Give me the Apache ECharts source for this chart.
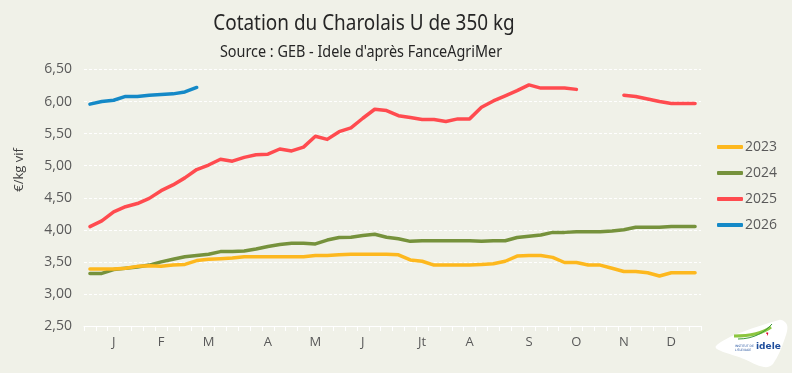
<!DOCTYPE html>
<html>
<head>
<meta charset="utf-8">
<script src="https://cdn.jsdelivr.net/npm/echarts@6/dist/echarts.min.js"></script>
<style>
html,body{margin:0;padding:0;background:#f0f1e8;}
#chart{width:792px;height:373px;}
</style>
</head>
<body>
<div id="chart"></div>
<script>
// Weeks 1..52
var weeks = [];
for (var w = 1; w <= 52; w++) weeks.push('S' + w);

// Month labels placed on specific weeks
var monthLabels = ['', '', 'J', '', '', '', 'F', '', '', '', 'M', '', '', '', '', 'A', '', '', '', 'M', '', '', '', 'J', '', '', '', '', 'Jt', '', '', '', 'A', '', '', '', '', 'S', '', '', '', 'O', '', '', '', 'N', '', '', '', 'D', '', ''];

var yTicks = [2.5, 3.0, 3.5, 4.0, 4.5, 5.0, 5.5, 6.0, 6.5];

var s2023 = [3.39, 3.39, 3.39, 3.40, 3.43, 3.44, 3.43, 3.45, 3.46, 3.52, 3.54, 3.55, 3.56, 3.58, 3.58, 3.58, 3.58, 3.58, 3.58, 3.60, 3.60, 3.61, 3.62, 3.62, 3.62, 3.62,
             3.61, 3.53, 3.51, 3.45, 3.45, 3.45, 3.45, 3.46, 3.47, 3.51, 3.59, 3.60, 3.60, 3.57, 3.49, 3.49, 3.45, 3.45, 3.40, 3.35, 3.35, 3.33, 3.28, 3.33, 3.33, 3.33];

var s2024 = [3.32, 3.32, 3.38, 3.40, 3.42, 3.45, 3.50, 3.54, 3.58, 3.60, 3.62, 3.66, 3.66, 3.67, 3.70, 3.74, 3.77, 3.79, 3.79, 3.78, 3.84, 3.88, 3.885, 3.91, 3.93, 3.885,
             3.86, 3.82, 3.83, 3.83, 3.83, 3.83, 3.83, 3.82, 3.83, 3.83, 3.88, 3.90, 3.92, 3.96, 3.96, 3.97, 3.97, 3.97, 3.98, 4.00, 4.04, 4.04, 4.04, 4.05, 4.05, 4.05];

var s2025 = [4.05, 4.14, 4.28, 4.36, 4.41, 4.49, 4.61, 4.70, 4.81, 4.94, 5.01, 5.10, 5.07, 5.13, 5.17, 5.18, 5.26, 5.23, 5.29, 5.46, 5.41, 5.53, 5.59, 5.74, 5.88, 5.86,
             5.78, 5.75, 5.72, 5.72, 5.69, 5.73, 5.73, 5.91, 6.01, 6.09, 6.17, 6.26, 6.21, 6.21, 6.21, 6.19, null, null, null, 6.10, 6.08, 6.04, 6.00, 5.97, 5.97, 5.97];

var s2026 = [5.96, 6.00, 6.02, 6.08, 6.08, 6.10, 6.11, 6.12, 6.15, 6.22];

var seriesNames = ['2023', '2024', '2025', '2026'];
var seriesData = [s2023, s2024, s2025, s2026];
var seriesColors = ['#fdb81e', '#76923c', '#ff4b4f', '#1489c7'];

var titleText = 'Cotation du Charolais U de 350 kg';
var subtitleText = "Source : GEB - Idele d'après FanceAgriMer";
var yAxisName = '€/kg vif';

var chart = echarts.init(document.getElementById('chart'), null, {renderer: 'canvas'});

var series = seriesNames.map(function (n, i) {
  return {
    name: n,
    type: 'line',
    data: seriesData[i],
    showSymbol: false,
    symbol: 'none',
    connectNulls: false,
    lineStyle: {width: 3.5, color: seriesColors[i], cap: 'round', join: 'round'},
    itemStyle: {color: seriesColors[i]},
    z: 2 + (i === 0 ? 1 : 0)
  };
});

var option = {
  backgroundColor: '#f0f1e8',
  animation: false,
  legend: {
    orient: 'vertical',
    left: 712,
    top: 134,
    itemWidth: 26,
    itemHeight: 4,
    itemGap: 10,
    icon: 'roundRect',
    data: seriesNames,
    textStyle: {fontFamily: 'Open Sans', fontSize: 14, color: '#595959', lineHeight: 16, padding: [0,0,0,-3]}
  },
  grid: {left: 84, right: 91, top: 69.5, bottom: 47, containLabel: false},
  xAxis: {
    type: 'category',
    data: weeks,
    boundaryGap: true,
    axisLine: {show: true, lineStyle: {color: '#ffffff', width: 1}},
    axisTick: {show: true, interval: 0, length: 5, lineStyle: {color: '#ffffff'}},
    axisLabel: {
      interval: 0, margin: 10,
      fontFamily: 'Open Sans', fontSize: 13, color: '#595959',
      formatter: function (v, idx) { return monthLabels[idx]; }
    }
  },
  yAxis: {
    type: 'value',
    min: yTicks[0], max: yTicks[yTicks.length - 1], interval: 0.5,
    axisLine: {show: false},
    axisTick: {show: false},
    axisLabel: {
      margin: 12, fontFamily: 'Open Sans', fontSize: 14, color: '#595959',
      formatter: function (v) { return v.toFixed(2).replace('.', ','); }
    },
    splitLine: {show: true, lineStyle: {color: '#ffffff', width: 1, type: [3, 2]}}
  },
  graphic: [
    {type: 'text', z: 20, x: 364, y: 24, scaleX: 0.86,
     style: {text: titleText, fill: '#262626', font: '22px "Noto Sans"', align: 'center', verticalAlign: 'middle'}},
    {type: 'text', z: 20, x: 361, y: 52, scaleX: 0.9,
     style: {text: subtitleText, fill: '#262626', font: '16px "Noto Sans"', align: 'center', verticalAlign: 'middle'}},
    {type: 'text', z: 20, x: 19, y: 170, rotation: Math.PI / 2,
     style: {text: yAxisName, fill: '#404040', font: '13px "Open Sans"', align: 'center', verticalAlign: 'middle'}},
    {type: 'polygon', z: 10,
     shape: {points: [[716, 346], [779, 320], [787, 325], [785, 338], [773, 364], [764, 367], [744, 359]], smooth: 0.35},
     style: {fill: '#ffffff'}},
    {type: 'bezierCurve', z: 11,
     shape: {x1: 734, y1: 336, x2: 771, y2: 327, cpx1: 748, cpy1: 336, cpx2: 762, cpy2: 334},
     style: {stroke: '#8cc63f', lineWidth: 3, fill: null}},
    {type: 'bezierCurve', z: 11,
     shape: {x1: 738, y1: 339, x2: 772, y2: 324, cpx1: 754, cpy1: 339, cpx2: 765, cpy2: 332},
     style: {stroke: '#3a9a3a', lineWidth: 1, fill: null}},
    {type: 'text', z: 12, x: 766, y: 332,
     style: {text: '❜', fill: '#e4002b', font: 'bold 9px DejaVu Sans'}},
    {type: 'text', z: 12, x: 756, y: 342,
     style: {text: 'idele', fill: '#1f4e9c', font: 'bold 9px DejaVu Sans'}},
    {type: 'text', z: 12, x: 735, y: 344,
     style: {text: 'INSTITUT DE\nL\'ÉLEVAGE', fill: '#1f4e9c', font: '3px DejaVu Sans', lineHeight: 4}}
  ],
  series: series
};

chart.setOption(option);
</script>
</body>
</html>
